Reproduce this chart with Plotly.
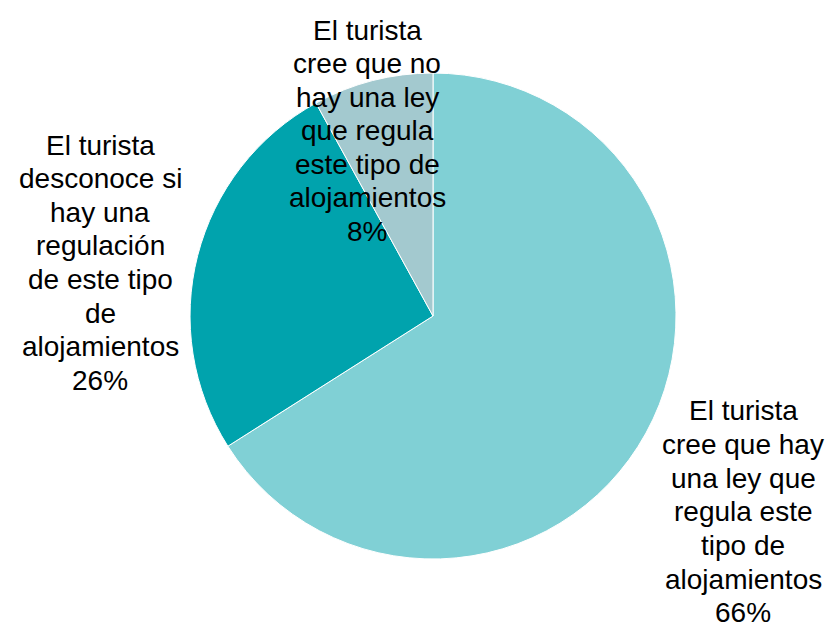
import plotly.graph_objects as go

labels = [
    ["El turista", "cree que hay", "una ley que", "regula este", "tipo de", "alojamientos"],
    ["El turista", "desconoce si", "hay una", "regulación", "de este tipo", "de", "alojamientos"],
    ["El turista", "cree que no", "hay una ley", "que regula", "este tipo de", "alojamientos"],
]
values = [66, 26, 8]
colors = ["#80D0D5", "#00A3AD", "#A3C9CF"]

W, H = 835, 627
OFF = 8  # page body margin in the browser

# label block positions in screen pixels: centre x, first line centre y
label_px = [(743, 411), (100, 145), (367, 30)]
line_step = 33.6

fig = go.Figure()

fig.add_trace(
    go.Pie(
        labels=["<br>".join(l) for l in labels],
        values=values,
        marker=dict(colors=colors, line=dict(color="white", width=1)),
        sort=False,
        direction="clockwise",
        rotation=0,
        textinfo="none",
        hoverinfo="label+percent",
        showlegend=False,
        domain=dict(x=[0.2180, 0.8000], y=[0.1212, 0.8963]),
    )
)

annotations = []
for lines, val, (sx, sy) in zip(labels, values, label_px):
    for i, line in enumerate(lines + [f"{val}%"]):
        y_px = sy + i * line_step - OFF
        annotations.append(
            dict(
                text=line,
                x=(sx - OFF) / W,
                y=1 - y_px / H,
                xref="paper",
                yref="paper",
                xanchor="center",
                yanchor="middle",
                showarrow=False,
                font=dict(family="Liberation Sans, Arial", size=28, color="black"),
            )
        )

fig.update_layout(
    width=W,
    height=H,
    margin=dict(l=0, r=0, t=0, b=0),
    paper_bgcolor="white",
    plot_bgcolor="white",
    annotations=annotations,
)

fig.write_html("out.html")
